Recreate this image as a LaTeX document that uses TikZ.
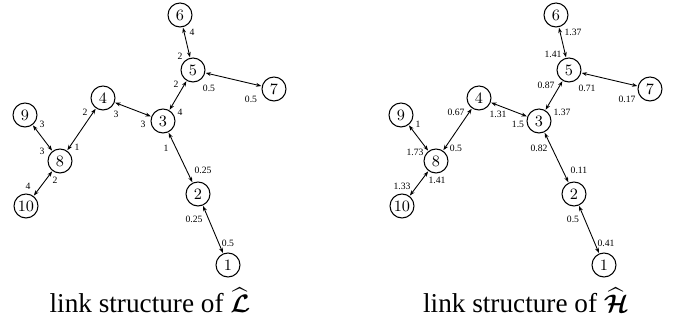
\documentclass[tikz,border=0pt]{standalone}
\usepackage{amsfonts,amssymb,amsmath}
\usepackage{fontspec}
\setmainfont{Liberation Serif}
\usepackage{tikz}
\usetikzlibrary{arrows.meta}

\tikzset{
  vertex/.style={shape=circle,draw,line width=0.6pt,minimum size=0.48cm,inner sep=0pt,font=\fontsize{9.5}{10}\selectfont},
  link/.style={{Stealth[length=3pt,width=2.2pt]}-{Stealth[length=3pt,width=2.2pt]},line width=0.5pt,shorten <=0.3pt,shorten >=0.3pt},
  wt/.style={inner sep=0pt,font=\fontsize{5.5}{6}\selectfont},
  subtitle/.style={anchor=base,font=\fontsize{15.5}{17}\selectfont}
}

\begin{document}
\begin{tikzpicture}[=>stealth]
\useasboundingbox(0,0)rectangle(13.62,6.48);
% link structure of L
\begin{scope}
\node[vertex](L1)at(4.56,1.18){$1$};
\node[vertex](L2)at(3.96,2.60){$2$};
\node[vertex](L3)at(3.26,4.06){$3$};
\node[vertex](L4)at(2.06,4.52){$4$};
\node[vertex](L5)at(3.86,5.08){$5$};
\node[vertex](L6)at(3.60,6.18){$6$};
\node[vertex](L7)at(5.48,4.70){$7$};
\node[vertex](L8)at(1.20,3.26){$8$};
\node[vertex](L9)at(0.50,4.18){$9$};
\node[vertex](L10)at(0.52,2.36){$10$};
\draw[link](L6)--(L5);
\draw[link](L5)--(L7);
\draw[link](L5)--(L3);
\draw[link](L4)--(L3);
\draw[link](L8)--(L4);
\draw[link](L9)--(L8);
\draw[link](L8)--(L10);
\draw[link](L3)--(L2);
\draw[link](L2)--(L1);
\node[wt](La65)at(3.84,5.84){4};
\node[wt](Lb65)at(3.60,5.36){2};
\node[wt](La57)at(4.18,4.72){0.5};
\node[wt](Lb57)at(5.02,4.50){0.5};
\node[wt](La53)at(3.52,4.80){2};
\node[wt](Lb53)at(3.60,4.24){4};
\node[wt](La43)at(2.32,4.20){3};
\node[wt](Lb43)at(2.86,4.00){3};
\node[wt](La84)at(1.70,4.24){2};
\node[wt](Lb84)at(1.54,3.54){1};
\node[wt](La98)at(0.84,4.00){3};
\node[wt](Lb98)at(0.84,3.46){3};
\node[wt](La810)at(0.56,2.76){4};
\node[wt](Lb810)at(1.10,2.88){2};
\node[wt](La32)at(3.32,3.52){1};
\node[wt](Lb32)at(4.06,3.08){0.25};
\node[wt](La21)at(3.88,2.10){0.25};
\node[wt](Lb21)at(4.56,1.62){0.5};
\node[subtitle](Lcap)at(3.0,0.22){link structure of $\widehat{\boldsymbol{\mathcal{L}}}$};
\end{scope}
% link structure of H
\begin{scope}[xshift=7.52cm]
\node[vertex](H1)at(4.56,1.18){$1$};
\node[vertex](H2)at(3.96,2.60){$2$};
\node[vertex](H3)at(3.26,4.06){$3$};
\node[vertex](H4)at(2.06,4.52){$4$};
\node[vertex](H5)at(3.86,5.08){$5$};
\node[vertex](H6)at(3.60,6.18){$6$};
\node[vertex](H7)at(5.48,4.70){$7$};
\node[vertex](H8)at(1.20,3.26){$8$};
\node[vertex](H9)at(0.50,4.18){$9$};
\node[vertex](H10)at(0.52,2.36){$10$};
\draw[link](H6)--(H5);
\draw[link](H5)--(H7);
\draw[link](H5)--(H3);
\draw[link](H4)--(H3);
\draw[link](H8)--(H4);
\draw[link](H9)--(H8);
\draw[link](H8)--(H10);
\draw[link](H3)--(H2);
\draw[link](H2)--(H1);
\node[wt](Ha65)at(3.94,5.84){1.37};
\node[wt](Hb65)at(3.54,5.40){1.41};
\node[wt](Ha57)at(4.22,4.72){0.71};
\node[wt](Hb57)at(5.02,4.50){0.17};
\node[wt](Ha53)at(3.40,4.78){0.87};
\node[wt](Hb53)at(3.72,4.24){1.37};
\node[wt](Ha43)at(2.44,4.20){1.31};
\node[wt](Hb43)at(2.84,4.00){1.5};
\node[wt](Ha84)at(1.60,4.24){0.67};
\node[wt](Hb84)at(1.60,3.52){0.5};
\node[wt](Ha98)at(0.84,4.00){1};
\node[wt](Hb98)at(0.78,3.44){1.73};
\node[wt](Ha810)at(0.52,2.76){1.33};
\node[wt](Hb810)at(1.22,2.88){1.41};
\node[wt](Ha32)at(3.26,3.52){0.82};
\node[wt](Hb32)at(4.06,3.08){0.11};
\node[wt](Ha21)at(3.94,2.10){0.5};
\node[wt](Hb21)at(4.60,1.62){0.41};
\node[subtitle](Hcap)at(3.0,0.22){link structure of $\widehat{\boldsymbol{\mathcal{H}}}$};
\end{scope}
\end{tikzpicture}
\end{document}
